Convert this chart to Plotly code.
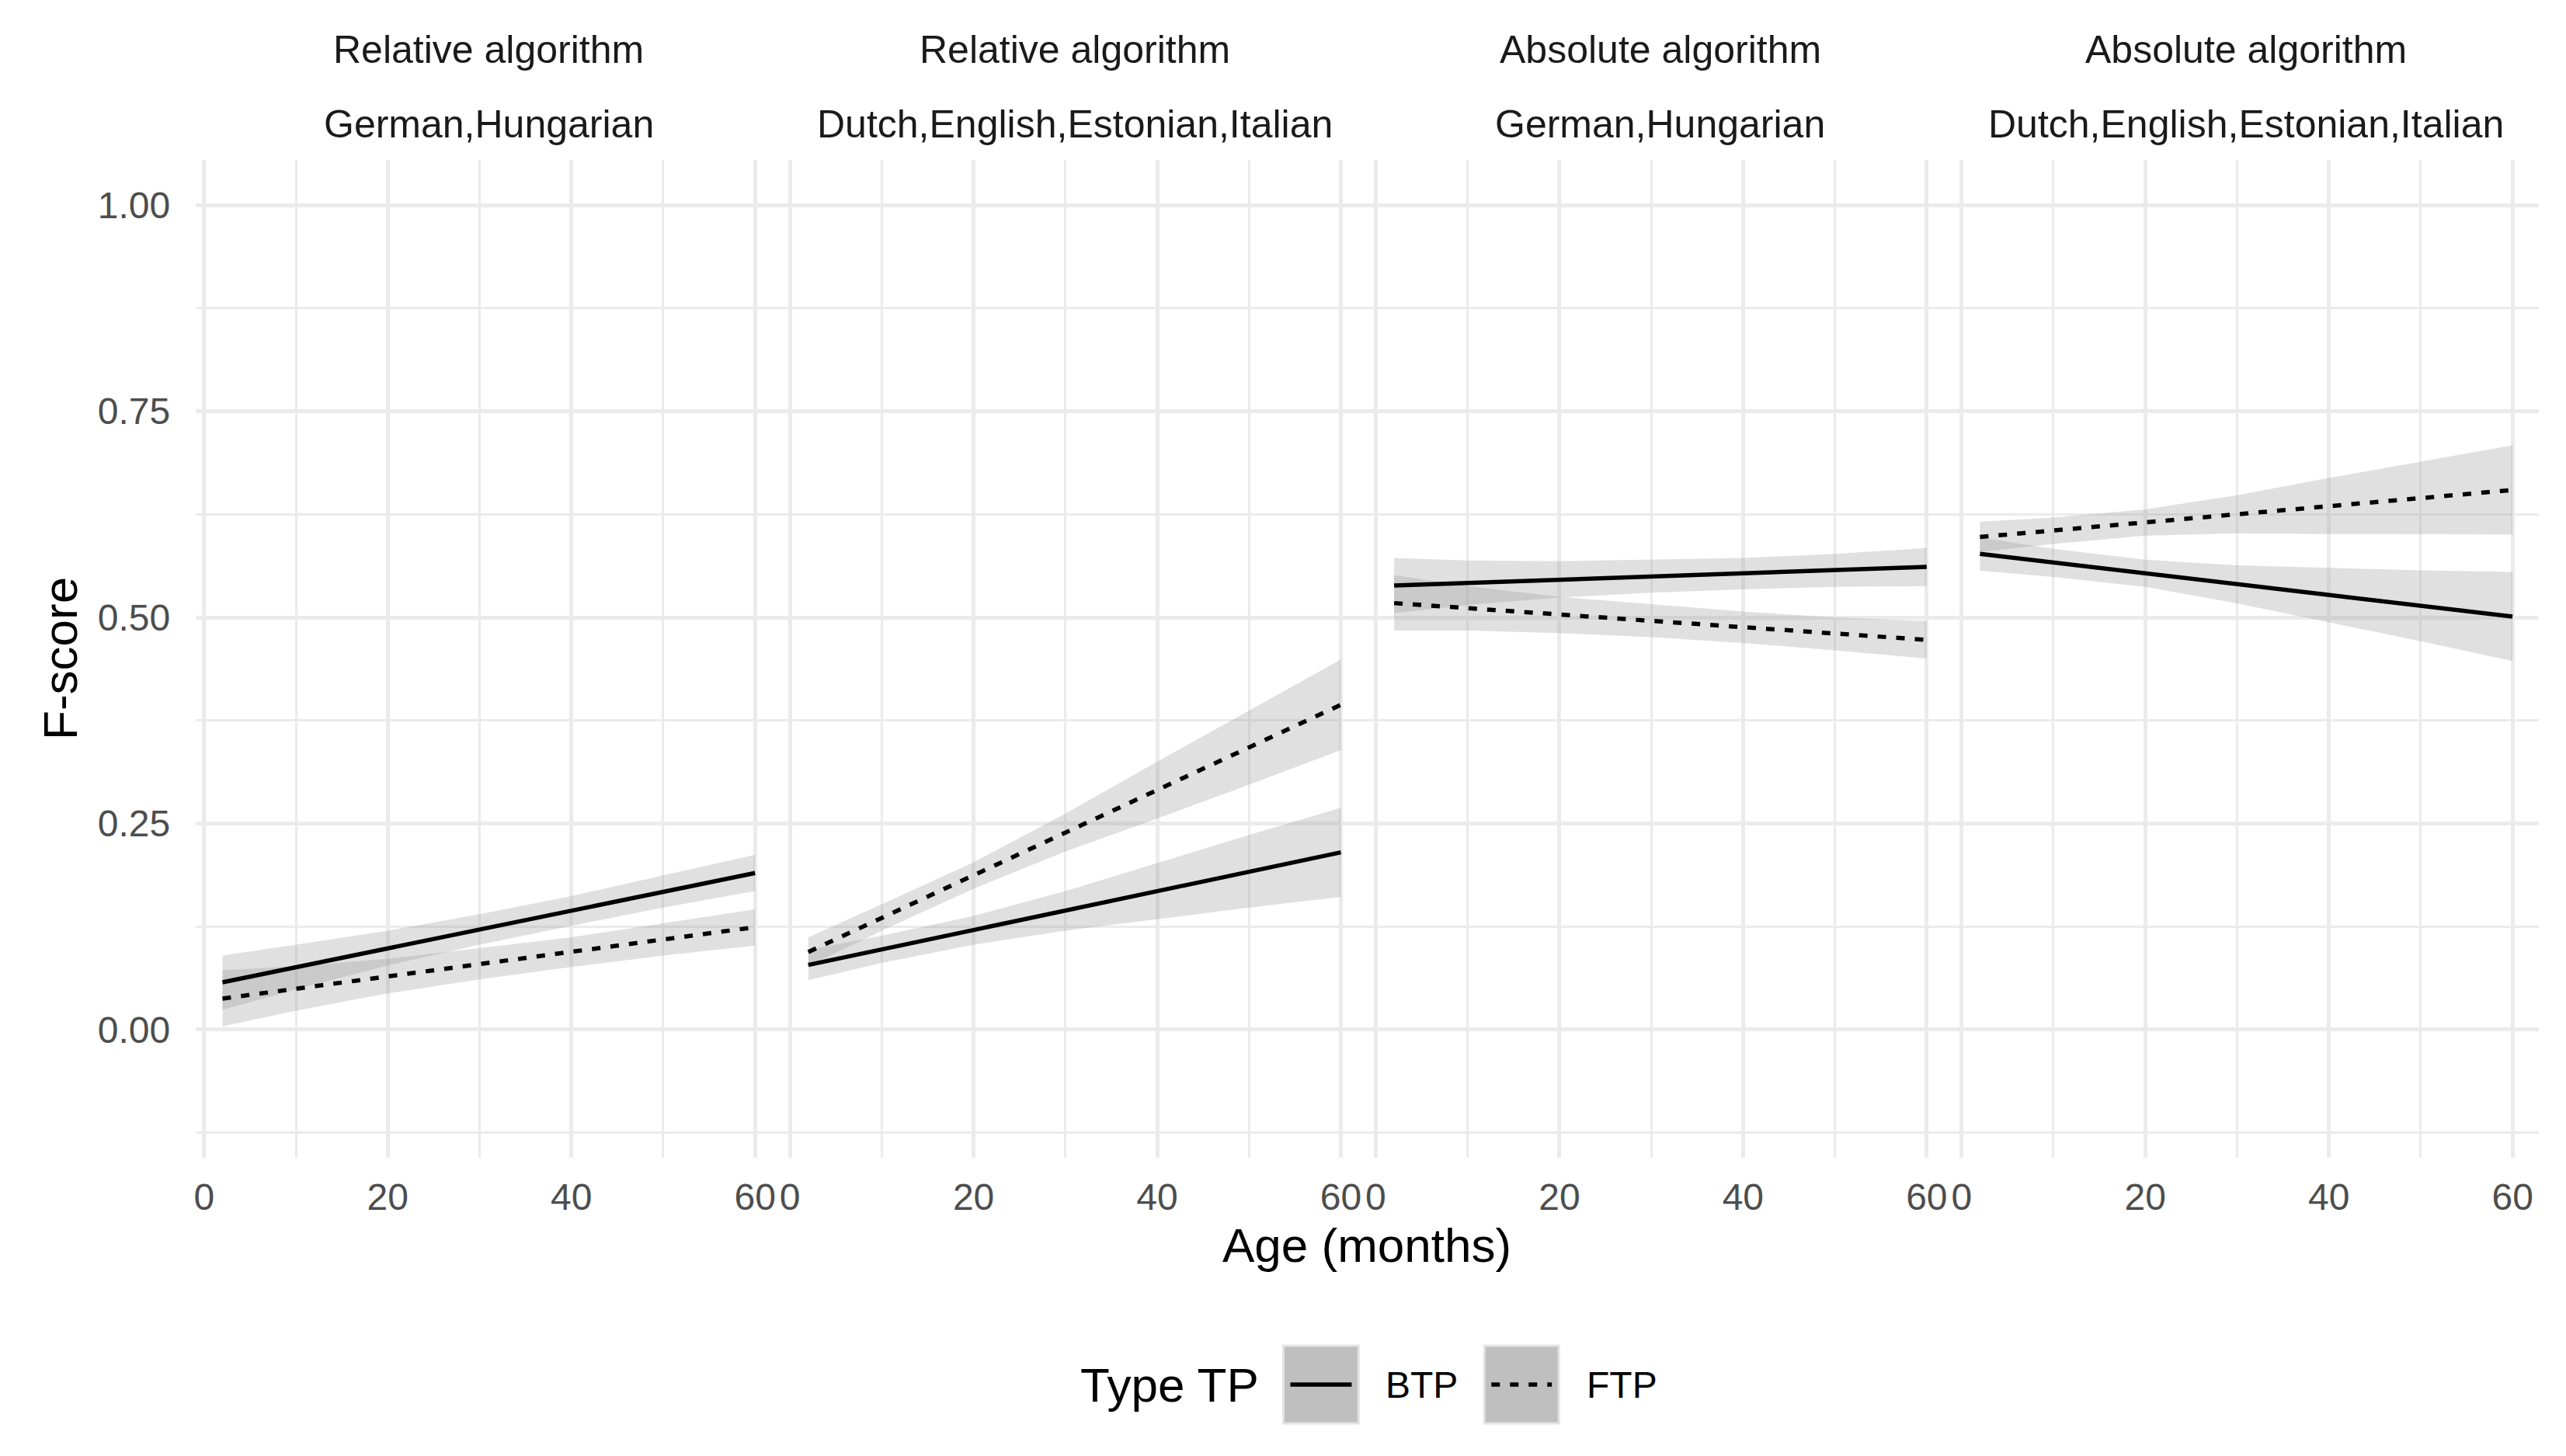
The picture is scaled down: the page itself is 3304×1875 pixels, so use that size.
import plotly.graph_objects as go

ages = [2, 10, 20, 30, 40, 50, 60]
fit_ages = [2, 60]

strip_top = ["Relative algorithm", "Relative algorithm", "Absolute algorithm", "Absolute algorithm"]
strip_bottom = ["German,Hungarian", "Dutch,English,Estonian,Italian",
                "German,Hungarian", "Dutch,English,Estonian,Italian"]

# panel 1 - relative, German/Hungarian
p1_btp_fit = [0.0574, 0.190]
p1_btp_hi = [0.090, 0.103, 0.120, 0.140, 0.162, 0.187, 0.212]
p1_btp_lo = [0.024, 0.049, 0.078, 0.103, 0.126, 0.148, 0.168]
p1_ftp_fit = [0.0377, 0.1243]
p1_ftp_hi = [0.072, 0.077, 0.086, 0.099, 0.112, 0.129, 0.146]
p1_ftp_lo = [0.004, 0.023, 0.044, 0.061, 0.076, 0.090, 0.102]

# panel 2 - relative, Dutch/English/Estonian/Italian
p2_btp_fit = [0.0785, 0.215]
p2_btp_hi = [0.097, 0.114, 0.138, 0.168, 0.202, 0.236, 0.269]
p2_btp_lo = [0.060, 0.081, 0.103, 0.120, 0.134, 0.148, 0.161]
p2_ftp_fit = [0.0942, 0.394]
p2_ftp_hi = [0.112, 0.152, 0.203, 0.262, 0.325, 0.387, 0.449]
p2_ftp_lo = [0.077, 0.120, 0.171, 0.216, 0.256, 0.297, 0.339]

# panel 3 - absolute, German/Hungarian
p3_btp_fit = [0.5386, 0.5612]
p3_btp_hi = [0.572, 0.569, 0.568, 0.570, 0.572, 0.577, 0.584]
p3_btp_lo = [0.505, 0.515, 0.524, 0.530, 0.534, 0.537, 0.538]
p3_ftp_fit = [0.5173, 0.4727]
p3_ftp_hi = [0.551, 0.538, 0.525, 0.516, 0.507, 0.500, 0.4955]
p3_ftp_lo = [0.484, 0.484, 0.481, 0.476, 0.469, 0.460, 0.450]

# panel 4 - absolute, Dutch/English/Estonian/Italian
p4_btp_fit = [0.5769, 0.501]
p4_btp_hi = [0.597, 0.583, 0.570, 0.563, 0.560, 0.557, 0.555]
p4_btp_lo = [0.5565, 0.549, 0.537, 0.517, 0.494, 0.471, 0.447]
p4_ftp_fit = [0.5975, 0.6544]
p4_ftp_hi = [0.616, 0.621, 0.631, 0.648, 0.669, 0.689, 0.7085]
p4_ftp_lo = [0.579, 0.589, 0.599, 0.602, 0.601, 0.6005, 0.6005]

panels = [
    (p1_btp_fit, p1_btp_lo, p1_btp_hi, p1_ftp_fit, p1_ftp_lo, p1_ftp_hi),
    (p2_btp_fit, p2_btp_lo, p2_btp_hi, p2_ftp_fit, p2_ftp_lo, p2_ftp_hi),
    (p3_btp_fit, p3_btp_lo, p3_btp_hi, p3_ftp_fit, p3_ftp_lo, p3_ftp_hi),
    (p4_btp_fit, p4_btp_lo, p4_btp_hi, p4_ftp_fit, p4_ftp_lo, p4_ftp_hi),
]

# the page body has an 8px margin, so the figure is a bit smaller and
# every pixel position below (measured on the reference) is shifted by OFF
OFF = 8
W, H = 3304 - OFF, 1875 - OFF
FONT = "Liberation Sans, Arial, Helvetica, sans-serif"
GRID = "#ebebeb"
RIBBON = "rgba(153,153,153,0.3)"
DASH = "11px,13px"


def px(p):
    return (p - OFF) / W


def py(p):
    return 1 - (p - OFF) / H


# panel geometry (reference pixels)
left_px, panel_px = 249.4, 755.0
top_px, bottom_px = 205.6, 1490.6

fig = go.Figure()

for i, (bf, blo, bhi, ff, flo, fhi) in enumerate(panels):
    xa = "x" if i == 0 else f"x{i+1}"
    ya = "y" if i == 0 else f"y{i+1}"
    for lo, hi in [(blo, bhi), (flo, fhi)]:
        fig.add_trace(go.Scatter(
            x=ages + ages[::-1], y=hi + lo[::-1], xaxis=xa, yaxis=ya,
            fill="toself", fillcolor=RIBBON, line=dict(width=0),
            mode="lines", showlegend=False, hoverinfo="skip"))
    fig.add_trace(go.Scatter(x=fit_ages, y=bf, xaxis=xa, yaxis=ya, mode="lines",
                             line=dict(color="black", width=5.5), showlegend=False))
    fig.add_trace(go.Scatter(x=fit_ages, y=ff, xaxis=xa, yaxis=ya, mode="lines",
                             line=dict(color="black", width=5.5, dash=DASH), showlegend=False))

layout = dict(
    width=W, height=H, margin=dict(l=0, r=0, t=0, b=0),
    paper_bgcolor="white", plot_bgcolor="white",
    font=dict(family=FONT, color="black"),
    showlegend=False,
)

for i in range(4):
    xkey = "xaxis" if i == 0 else f"xaxis{i+1}"
    ykey = "yaxis" if i == 0 else f"yaxis{i+1}"
    layout[xkey] = dict(
        domain=[px(left_px + i * panel_px), px(left_px + (i + 1) * panel_px)],
        anchor="y" if i == 0 else f"y{i+1}",
        range=[-0.9, 62.9], tick0=0, dtick=20, showgrid=True, gridcolor=GRID, gridwidth=4.5,
        minor=dict(dtick=10, tick0=0, showgrid=True, gridcolor=GRID, gridwidth=2.5),
        zeroline=False, showline=False, ticks="", ticklabelstandoff=18,
        tickfont=dict(size=48, color="#4d4d4d", family=FONT), fixedrange=True,
    )
    layout[ykey] = dict(
        domain=[py(bottom_px), py(top_px)], anchor="x" if i == 0 else f"x{i+1}",
        range=[-0.155, 1.055], tick0=0, dtick=0.25, tickformat=".2f",
        showgrid=True, gridcolor=GRID, gridwidth=4.5,
        minor=dict(dtick=0.125, tick0=0, showgrid=True, gridcolor=GRID, gridwidth=2.5),
        zeroline=False, showline=False, ticks="", showticklabels=(i == 0),
        ticklabelstandoff=32, tickfont=dict(size=48, color="#4d4d4d", family=FONT),
        fixedrange=True,
    )

fig.update_layout(**layout)

annotations = []
for i in range(4):
    cx = px(left_px + (i + 0.5) * panel_px)
    annotations.append(dict(x=cx, y=py(63.6), xref="paper", yref="paper", text=strip_top[i],
                            showarrow=False, font=dict(size=50, color="#1a1a1a", family=FONT),
                            xanchor="center", yanchor="middle"))
    annotations.append(dict(x=cx, y=py(159.6), xref="paper", yref="paper", text=strip_bottom[i],
                            showarrow=False, font=dict(size=50, color="#1a1a1a", family=FONT),
                            xanchor="center", yanchor="middle"))

# axis titles
annotations.append(dict(x=px(1759), y=py(1603), xref="paper", yref="paper",
                        text="Age (months)", showarrow=False, font=dict(size=62, family=FONT),
                        xanchor="center", yanchor="middle"))
annotations.append(dict(x=px(74), y=py(848), xref="paper", yref="paper", text="F-score",
                        textangle=-90, showarrow=False, font=dict(size=62, family=FONT),
                        xanchor="center", yanchor="middle"))

# legend drawn by hand (ggplot style keys)
annotations.append(dict(x=px(1387), y=py(1783), xref="paper", yref="paper", text="Type TP",
                        showarrow=False, font=dict(size=62, family=FONT),
                        xanchor="left", yanchor="middle"))
annotations.append(dict(x=px(1781), y=py(1783), xref="paper", yref="paper", text="BTP",
                        showarrow=False, font=dict(size=48, family=FONT),
                        xanchor="left", yanchor="middle"))
annotations.append(dict(x=px(2040), y=py(1783), xref="paper", yref="paper", text="FTP",
                        showarrow=False, font=dict(size=48, family=FONT),
                        xanchor="left", yanchor="middle"))

shapes = []
for kx0, kx1, dash in [(1651, 1748, None), (1910, 2006, DASH)]:
    shapes.append(dict(type="rect", xref="paper", yref="paper",
                       x0=px(kx0), x1=px(kx1), y0=py(1833), y1=py(1733),
                       fillcolor="#bfbfbf", line=dict(color="#e3e3e3", width=3), layer="above"))
    ln = dict(color="black", width=5.5)
    if dash:
        ln["dash"] = dash
    shapes.append(dict(type="line", xref="paper", yref="paper",
                       x0=px(kx0 + 9), x1=px(kx1 - 9), y0=py(1783), y1=py(1783),
                       line=ln, layer="above"))

fig.update_layout(annotations=annotations, shapes=shapes)

fig.write_html("out.html")
